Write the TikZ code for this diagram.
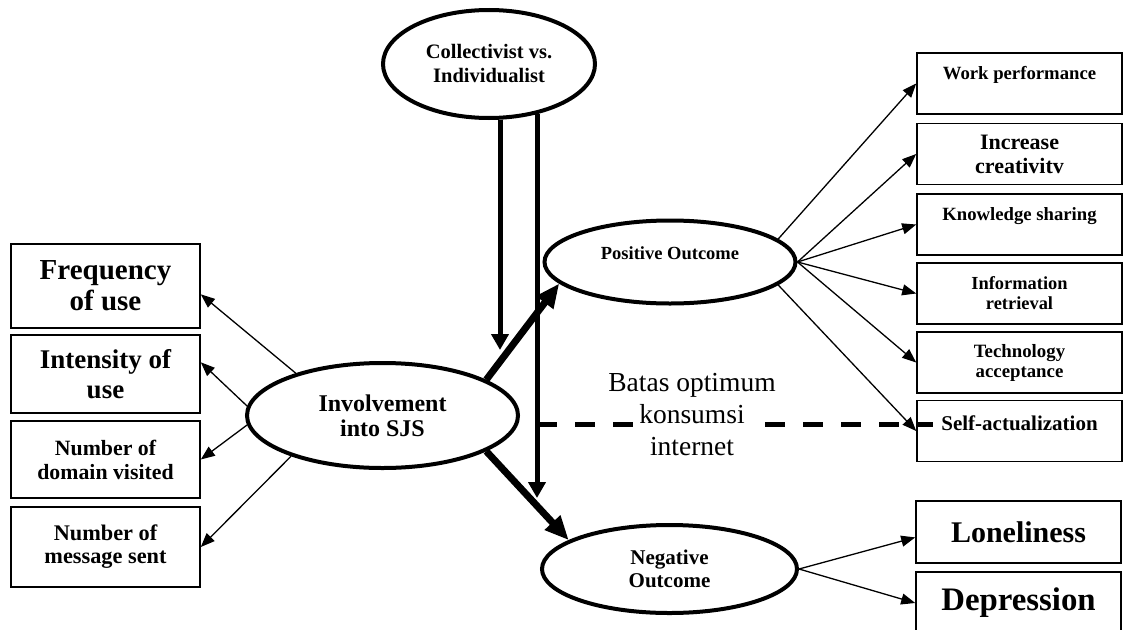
\documentclass[tikz,border=0pt]{standalone}
\usepackage{fontspec}
\setmainfont{Liberation Serif}
\usetikzlibrary{arrows.meta,shapes.geometric}
\newcommand{\fsz}[2]{\fontsize{#1}{#2}\selectfont}
\newcommand{\cover}[1]{{\setlength{\fboxsep}{6pt}\colorbox{white}{#1}}}
\begin{document}
\begin{tikzpicture}[x=1pt, y=-1pt,
  oval/.style={ellipse, draw, line width=4pt, fill=white, inner sep=0pt,
               align=center},
  lbox/.style={rectangle, draw, line width=1.6pt, inner sep=0pt,
               minimum width=189pt, align=center},
  rbox/.style={rectangle, draw, line width=1.6pt, inner sep=0pt,
               minimum width=205pt, minimum height=61pt, align=center},
  lift/.style={text depth=#1},
  arr/.style={-{Triangle[length=14pt, width=11pt]}, line width=1.3pt},
  bigarr/.style={-{Triangle[length=24pt, width=20pt]}, line width=7pt},
  varr/.style={-{Triangle[length=16pt, width=17pt]}, line width=5pt},
  limit/.style={line width=5pt, dash pattern=on 20pt off 18pt}
]
\useasboundingbox (0,0) rectangle (1123,629);
% ellipses
\node[oval, minimum width=212pt, minimum height=108pt,
      font=\bfseries\fsz{20.5}{24}] (coll) at (489,64)
  {Collectivist vs.\\Individualist};
\node[oval, minimum width=251pt, minimum height=83pt, lift=18pt,
      font=\bfseries\fsz{18.5}{20}] (pos) at (670,262) {Positive Outcome};
\node[oval, minimum width=271pt, minimum height=105pt,
      font=\bfseries\fsz{24}{25}] (inv) at (382.5,415.5) {Involvement\\into SJS};
\node[oval, minimum width=255pt, minimum height=88pt,
      font=\bfseries\fsz{21}{23}] (neg) at (669.5,569) {Negative\\Outcome};
% LEFT: indicators
\node[lbox, minimum height=84pt, font=\bfseries\fsz{29}{31}] (freq)
  at (105.5,286) {Frequency\\of use};
\node[lbox, minimum height=78pt, font=\bfseries\fsz{27}{30}] (inten)
  at (105.5,374) {Intensity of\\use};
\node[lbox, minimum height=77pt, font=\bfseries\fsz{21.8}{24}] (dom)
  at (105.5,459.5) {Number of\\domain visited};
\node[lbox, minimum height=80pt, font=\bfseries\fsz{22.3}{23}] (msg)
  at (105.5,547) {Number of\\message sent};
% RIGHT: outcomes
\node[rbox, lift=21.5pt, font=\bfseries\fsz{18.7}{20}] (work)
  at (1019.5,83.5) {Work performance};
\node[rbox, font=\bfseries\fsz{22}{24}] (creat)
  at (1019.5,154) {Increase\\creativitv};
\node[rbox, lift=21.5pt, font=\bfseries\fsz{18.7}{20}] (know)
  at (1019.5,224.5) {Knowledge sharing};
\node[rbox, font=\bfseries\fsz{18.4}{20}] (info)
  at (1019.5,293.5) {Information\\retrieval};
\node[rbox, font=\bfseries\fsz{18.8}{20}] (tech)
  at (1019.5,362.5) {Technology\\acceptance};
\node[rbox, lift=16.5pt, font=\bfseries\fsz{21}{23}] (self)
  at (1019.5,431) {Self-actualization};
\node[rbox, minimum height=62pt, font=\bfseries\fsz{30}{32}] (lone)
  at (1018.5,532) {Loneliness};
\node[rbox, minimum height=62pt, font=\bfseries\fsz{32.8}{34}] (dep)
  at (1018.5,603) {Depression};
% connectors
\draw[arr] (inv.154) -- (freq.-5);
\draw[arr] (inv.176) -- (inten.7);
\draw[arr] (inv.184) -- (dom.east);
\draw[arr] (inv.204) -- (msg.east);
\draw[arr] (pos.12) -- (work.west);
\foreach \t in {creat, know, info, tech}
  \draw[arr] (pos.east) -- (\t.west);
\draw[arr] (pos.-12) -- (self.west);
\draw[arr] (neg.east) -- (lone.183);
\draw[arr] (neg.east) -- (dep.west);
\draw[bigarr] (inv.19) -- (pos.191);
\draw[bigarr] (inv.-19) -- (neg.164);
% moderator and limit
\coordinate (leftend) at (500,350);
\coordinate (rightend) at (537,498);
\coordinate (optstart) at (537,424);
\coordinate (optend) at (933,424);
\draw[varr] (leftend |- coll.-78) -- (leftend);
\draw[varr] (rightend |- coll.-45) -- (rightend);
\draw[limit] (optstart) -- (optend);
\node[inner sep=0pt, align=center, font=\fsz{27.5}{32}] (batas)
  at (692,415) {Batas optimum\\\cover{konsumsi}\\internet};
\end{tikzpicture}
\end{document}
